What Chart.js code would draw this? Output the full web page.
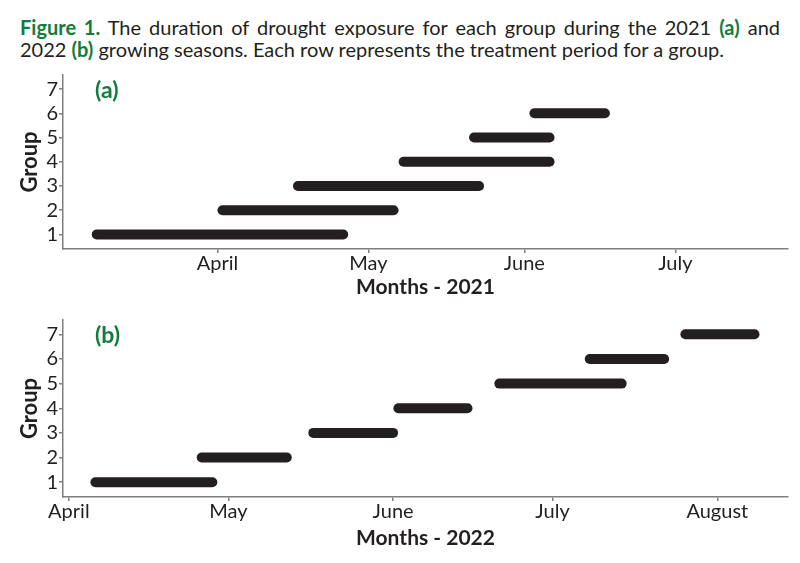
<!DOCTYPE html>
<html lang="en">

<head>
    <meta charset="UTF-8">
    <title>Figure 1 - drought exposure</title>
    <style>
        body {
            margin: 0;
            background: #ffffff;
            width: 800px;
            height: 563px;
            overflow: hidden;
            font-family: Lato, sans-serif;
            color: #231f20;
        }

        .legenda {
            position: absolute;
            left: 20px;
            top: 16px;
            width: 760px;
            font-size: 20px;
            line-height: 22px;
        }

        .linha1 {
            text-align: justify;
            text-align-last: justify;
            white-space: nowrap;
        }

        .verde {
            color: #137b3b;
            font-weight: bold;
        }

        .campo_grafico {
            position: absolute;
            left: 0;
            width: 800px;
        }
    </style>
</head>

<body>
    <div class="legenda">
        <div class="linha1"><span class="verde">Figure 1.</span> The duration of drought exposure for each group during the 2021 <span class="verde">(a)</span> and</div>
        <div>2022 <span class="verde">(b)</span> growing seasons. Each row represents the treatment period for a group.</div>
    </div>

    <div class="campo_grafico" style="top: 62px; height: 245px;">
        <canvas id="grafico2021"></canvas>
    </div>
    <div class="campo_grafico" style="top: 307px; height: 256px;">
        <canvas id="grafico2022"></canvas>
    </div>

    <script src="https://cdn.jsdelivr.net/npm/chart.js"></script>
    <script>
        // groups on the y axis
        const grupos2021 = [1, 2, 3, 4, 5, 6]
        const grupos2022 = [1, 2, 3, 4, 5, 6, 7]

        // start / end of the drought treatment for each group
        const inicio2021 = ['2021-03-08', '2021-04-02', '2021-04-17', '2021-05-08', '2021-05-22', '2021-06-03']
        const fim2021 = ['2021-04-26', '2021-05-06', '2021-05-23', '2021-06-06', '2021-06-06', '2021-06-17']

        const inicio2022 = ['2022-04-06', '2022-04-26', '2022-05-17', '2022-06-02', '2022-06-21', '2022-07-08', '2022-07-26']
        const fim2022 = ['2022-04-28', '2022-05-12', '2022-06-01', '2022-06-15', '2022-07-14', '2022-07-22', '2022-08-08']

        // month ticks (first day of each month)
        const meses2021 = ['2021-04-01', '2021-05-01', '2021-06-01', '2021-07-01']
        const nomesMeses2021 = ['April', 'May', 'June', 'July']
        const meses2022 = ['2022-04-01', '2022-05-01', '2022-06-01', '2022-07-01', '2022-08-01']
        const nomesMeses2022 = ['April', 'May', 'June', 'July', 'August']

        const corBarra = '#231f20'
        const corEixo = '#7f7f7f'
        const corVerde = '#137b3b'

        // date string -> day of year
        function diaDoAno(texto) {
            const partes = texto.split('-').map(Number)
            const data = Date.UTC(partes[0], partes[1] - 1, partes[2])
            const comeco = Date.UTC(partes[0], 0, 0)
            return (data - comeco) / 86400000
        }

        // draws the "(a)" / "(b)" label inside the plot area
        const rotuloPainel = {
            id: 'rotuloPainel',
            afterDraw(chart, args, opcoes) {
                const ctx = chart.ctx
                ctx.save()
                ctx.font = 'bold 23px Lato'
                ctx.fillStyle = corVerde
                ctx.textAlign = 'left'
                ctx.textBaseline = 'middle'
                ctx.fillText(opcoes.texto, chart.chartArea.left + 32, chart.chartArea.top + 16)
                ctx.restore()
            }
        }

        function plotarGrafico(idGrafico, grupos, inicios, fins, meses, nomesMeses, config) {
            const datasets = grupos.map(function (grupo, i) {
                return {
                    data: [
                        { x: diaDoAno(inicios[i]), y: grupo },
                        { x: diaDoAno(fins[i]), y: grupo }
                    ],
                    showLine: true,
                    borderColor: corBarra,
                    borderWidth: 10,
                    borderCapStyle: 'round',
                    pointRadius: 0,
                    clip: false
                }
            })

            const valoresMeses = meses.map(diaDoAno)

            new Chart(document.getElementById(idGrafico), {
                type: 'scatter',
                data: { datasets: datasets },
                plugins: [rotuloPainel],
                options: {
                    responsive: true,
                    maintainAspectRatio: false,
                    animation: false,
                    layout: { padding: { top: config.topo, right: 12, left: 0, bottom: 0 } },
                    plugins: {
                        legend: { display: false },
                        tooltip: { enabled: false },
                        rotuloPainel: { texto: config.rotulo }
                    },
                    scales: {
                        x: {
                            type: 'linear',
                            min: config.xMin,
                            max: config.xMax,
                            afterFit: function (escala) { escala.height = config.alturaX },
                            afterBuildTicks: function (escala) {
                                escala.ticks = valoresMeses.map(v => ({ value: v }))
                            },
                            border: { color: corEixo, width: 1.5 },
                            grid: { drawOnChartArea: false, color: corEixo, tickLength: 4, lineWidth: 1.5 },
                            ticks: {
                                autoSkip: false,
                                maxRotation: 0,
                                padding: -1,
                                color: corBarra,
                                font: { family: 'Lato', size: 20 },
                                callback: function (valor) {
                                    return nomesMeses[valoresMeses.indexOf(valor)]
                                }
                            },
                            title: {
                                display: true,
                                text: config.tituloX,
                                color: corBarra,
                                font: { family: 'Lato', size: 21, weight: 'bold' },
                                padding: { top: 0, bottom: config.paddingTitulo }
                            }
                        },
                        y: {
                            type: 'linear',
                            min: 0.4,
                            max: 7.58,
                            afterFit: function (escala) { escala.width = 63 },
                            afterBuildTicks: function (escala) {
                                escala.ticks = grupos2022.map(v => ({ value: v }))
                            },
                            border: { color: corEixo, width: 1.5 },
                            grid: { drawOnChartArea: false, color: corEixo, tickLength: 4, lineWidth: 1.5 },
                            ticks: {
                                padding: 1,
                                color: corBarra,
                                font: { family: 'Lato', size: 20 }
                            },
                            title: {
                                display: true,
                                text: 'Group',
                                color: corBarra,
                                font: { family: 'Lato', size: 22, weight: 'bold' },
                                padding: { top: 17, bottom: 0 }
                            }
                        }
                    }
                }
            })
        }

        plotarGrafico('grafico2021', grupos2021, inicio2021, fim2021, meses2021, nomesMeses2021, {
            rotulo: '(a)', tituloX: 'Months - 2021', xMin: 60.3, xMax: 204.4,
            topo: 8, alturaX: 58, paddingTitulo: 7
        })

        plotarGrafico('grafico2022', grupos2022, inicio2022, fim2022, meses2022, nomesMeses2022, {
            rotulo: '(b)', tituloX: 'Months - 2022', xMin: 89.9, xMax: 226.3,
            topo: 11, alturaX: 66, paddingTitulo: 12
        })
    </script>
</body>

</html>
